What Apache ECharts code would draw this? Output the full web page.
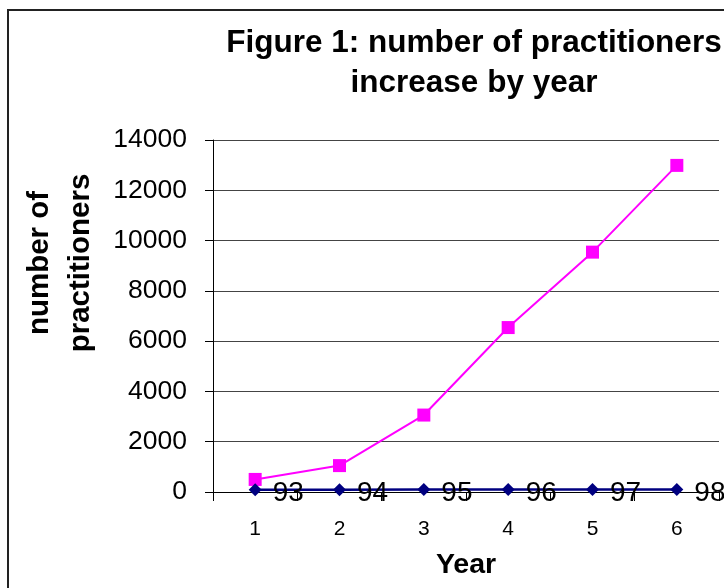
<!DOCTYPE html>
<html>
<head>
<meta charset="utf-8">
<style>
  html, body { margin: 0; padding: 0; background: #fff; }
  #chart { width: 724px; height: 588px; }
</style>
<script src="https://cdn.jsdelivr.net/npm/echarts@6/dist/echarts.min.js"></script>
</head>
<body>
<div id="chart"></div>
<script>
// Years on the category axis
const years = ['1', '2', '3', '4', '5', '6'];
// Practitioner counts per year
const practitioners = [500, 1050, 3060, 6540, 9540, 12990];
// Calendar year (19xx) for each year index
const yearLabels = [93, 94, 95, 96, 97, 98];
// Value axis ticks
const yMin = 0, yMax = 14000, yStep = 2000;

const FONT = 'Liberation Sans, Arial, sans-serif';

const chart = echarts.init(document.getElementById('chart'), null, { renderer: 'canvas' });

chart.setOption({
  backgroundColor: '#ffffff',
  animation: false,
  title: {
    text: 'Figure 1: number of practitioners\nincrease by year',
    left: 469,
    top: 18,
    textAlign: 'center',
    textStyle: {
      fontFamily: FONT,
      fontWeight: 'bold',
      fontSize: 31.5,
      lineHeight: 40,
      color: '#000'
    }
  },
  graphic: [
    {
      type: 'rect',
      shape: { x: 8, y: 10, width: 900, height: 800 },
      style: { fill: 'none', stroke: '#222', lineWidth: 2 },
      silent: true,
      z: -1
    },
    {
      type: 'text',
      x: 60,
      y: 263,
      rotation: Math.PI / 2,
      style: {
        text: 'number of\npractitioners',
        fontFamily: FONT,
        fontWeight: 'bold',
        fontSize: 29.5,
        lineHeight: 41,
        fill: '#000',
        align: 'center',
        verticalAlign: 'middle'
      },
      silent: true
    }
  ],
  grid: { left: 213, top: 140, right: 5, bottom: 96, containLabel: false },
  xAxis: {
    type: 'category',
    data: years,
    boundaryGap: true,
    name: 'Year',
    nameLocation: 'middle',
    nameGap: 59,
    nameTextStyle: { fontFamily: FONT, fontWeight: 'bold', fontSize: 28.5, color: '#000' },
    axisLine: { show: true, lineStyle: { color: '#000', width: 1 } },
    axisTick: { show: true, inside: false, length: 9, alignWithLabel: false, lineStyle: { color: '#000' } },
    axisLabel: { fontFamily: FONT, fontSize: 21, color: '#000', margin: 27 },
    splitLine: { show: false }
  },
  yAxis: {
    type: 'value',
    min: yMin,
    max: yMax,
    interval: yStep,
    axisLine: { show: true, lineStyle: { color: '#000', width: 1 } },
    axisTick: { show: true, inside: false, length: 8, lineStyle: { color: '#000' } },
    axisLabel: {
      fontFamily: FONT,
      fontSize: 26.5,
      color: '#000',
      margin: 26,
      formatter: function (v) { return String(v); }
    },
    splitLine: { show: true, lineStyle: { color: '#444', width: 1 } }
  },
  series: [
    {
      name: 'practitioners',
      type: 'line',
      data: practitioners,
      symbol: 'rect',
      symbolSize: 13,
      itemStyle: { color: '#ff00ff' },
      lineStyle: { color: '#ff00ff', width: 2 },
      z: 3
    },
    {
      name: 'year',
      type: 'line',
      data: yearLabels,
      symbol: 'diamond',
      symbolSize: 13,
      itemStyle: { color: '#000080' },
      lineStyle: { color: '#000080', width: 2.5 },
      label: {
        show: true,
        position: 'right',
        distance: 11,
        offset: [0, 4],
        fontFamily: FONT,
        fontSize: 28,
        color: '#000'
      },
      z: 4
    }
  ]
});
</script>
</body>
</html>
